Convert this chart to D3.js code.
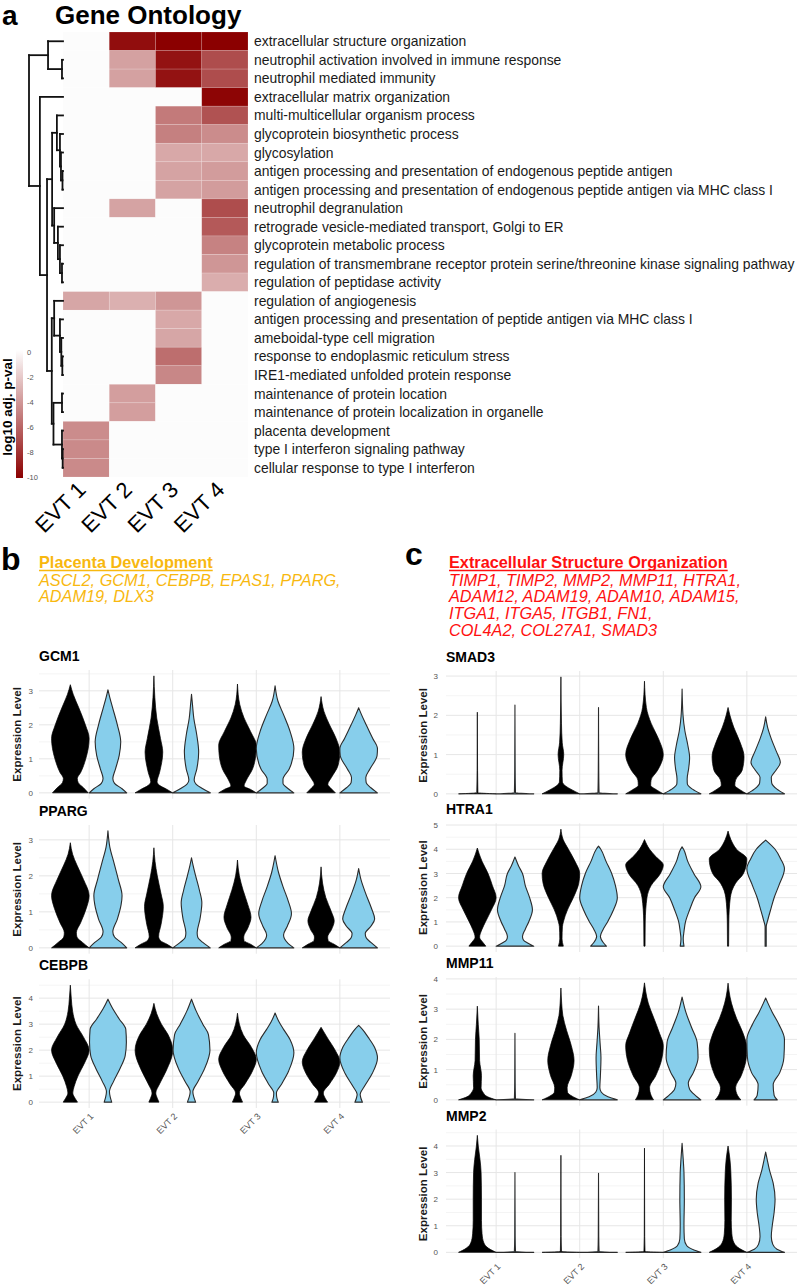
<!DOCTYPE html>
<html>
<head>
<meta charset="utf-8">
<script src="https://cdn.jsdelivr.net/npm/d3@7"></script>
<style>
  body { margin: 0; background: #fff; }
  text { font-family: "Liberation Sans", Arial, Helvetica, sans-serif; }
</style>
</head>
<body>
<div id="fig"></div>
<script>
// ---------- panel a: GO heatmap ----------
const goTerms = [
  "extracellular structure organization",
  "neutrophil activation involved in immune response",
  "neutrophil mediated immunity",
  "extracellular matrix organization",
  "multi-multicellular organism process",
  "glycoprotein biosynthetic process",
  "glycosylation",
  "antigen processing and presentation of endogenous peptide antigen",
  "antigen processing and presentation of endogenous peptide antigen via MHC class I",
  "neutrophil degranulation",
  "retrograde vesicle-mediated transport, Golgi to ER",
  "glycoprotein metabolic process",
  "regulation of transmembrane receptor protein serine/threonine kinase signaling pathway",
  "regulation of peptidase activity",
  "regulation of angiogenesis",
  "antigen processing and presentation of peptide antigen via MHC class I",
  "ameboidal-type cell migration",
  "response to endoplasmic reticulum stress",
  "IRE1-mediated unfolded protein response",
  "maintenance of protein location",
  "maintenance of protein localization in organelle",
  "placenta development",
  "type I interferon signaling pathway",
  "cellular response to type I interferon"
];
const clusters = ["EVT 1", "EVT 2", "EVT 3", "EVT 4"];
// log10 adj. p-value per term, per cluster (null = not enriched)
const goPval = [
  [null, -9.5, -10, -10],
  [null, -3.7, -9.3, -7],
  [null, -3.7, -9.3, -7],
  [null, null, null, -9.8],
  [null, null, -5.2, -6.8],
  [null, null, -5, -4.5],
  [null, null, -3.4, -3.4],
  [null, null, -3.6, -3.9],
  [null, null, -3.6, -3.9],
  [null, -3.6, null, -7],
  [null, null, null, -6.5],
  [null, null, null, -4.9],
  [null, null, null, -4.1],
  [null, null, null, -3.2],
  [-3.5, -3.1, -4.1, null],
  [null, null, -3.4, null],
  [null, null, -3.5, null],
  [null, null, -5.7, null],
  [null, null, -4.7, null],
  [null, -3.8, null, null],
  [null, -3.8, null, null],
  [-4.5, null, null, null],
  [-4.6, null, null, null],
  [-4.6, null, null, null]
];
// row dendrogram, hclust style: negative = leaf (1-based row), positive = earlier merge
const dendroMerges = [
  [-2, -3, 0.03], [-1, 1, 0.44], [-8, -9, 0.015], [-7, 3, 0.06], [-6, 4, 0.09],
  [-5, 5, 0.18], [-13, -14, 0.03], [-12, 7, 0.09], [-11, 8, 0.15], [-10, 9, 0.26],
  [6, 10, 0.32], [-18, -19, 0.02], [-17, 12, 0.05], [-16, 13, 0.09], [-15, 14, 0.26],
  [-20, -21, 0.03], [-23, -24, 0.01], [-22, 17, 0.03], [16, 18, 0.28], [15, 19, 0.33],
  [11, 20, 0.47], [-4, 21, 0.68], [2, 22, 1.0]
];
const legendTicks = [0, -2, -4, -6, -8, -10];

// ---------- panels b/c: gene sets ----------
const placentaTitle = "Placenta Development";
const placentaGenes = ["ASCL2, GCM1, CEBPB, EPAS1, PPARG,", "ADAM19, DLX3"];
const ecmTitle = "Extracellular Structure Organization";
const ecmGenes = ["TIMP1, TIMP2, MMP2, MMP11, HTRA1,", "ADAM12, ADAM19, ADAM10, ADAM15,",
                  "ITGA1, ITGA5, ITGB1, FN1,", "COL4A2, COL27A1, SMAD3"];

// violin outlines: [expression, relative width]; order EVT1 black, EVT1 blue, EVT2 black, ...
const vlnGCM1 = [
  [[0,0.95],[0.15,0.7],[0.3,0.42],[0.42,0.37],[0.6,0.55],[1.0,0.82],[1.6,1.0],[2.0,0.8],[2.5,0.45],[2.9,0.15],[3.18,0]],
  [[0,1.0],[0.12,0.75],[0.28,0.35],[0.42,0.26],[0.7,0.4],[1.1,0.6],[1.5,0.68],[2.0,0.5],[2.5,0.25],[2.8,0.1],[3.03,0]],
  [[0,1.0],[0.1,0.7],[0.22,0.3],[0.33,0.17],[0.6,0.3],[1.2,0.47],[1.6,0.35],[2.2,0.15],[2.8,0.05],[3.44,0]],
  [[0,1.0],[0.12,0.6],[0.25,0.25],[0.38,0.14],[0.7,0.28],[1.2,0.38],[1.7,0.28],[2.2,0.12],[2.6,0.05],[2.9,0]],
  [[0,1.0],[0.1,0.7],[0.2,0.35],[0.35,0.45],[0.7,0.8],[1.1,0.97],[1.4,1.0],[1.8,0.7],[2.2,0.35],[2.6,0.12],[3.2,0]],
  [[0,1.0],[0.12,0.7],[0.28,0.42],[0.4,0.42],[0.7,0.75],[1.3,1.0],[1.8,0.8],[2.3,0.45],[2.7,0.15],[3.15,0]],
  [[0,0.76],[0.12,0.55],[0.25,0.36],[0.45,0.55],[0.8,0.9],[1.2,1.0],[1.6,0.8],[2.0,0.45],[2.4,0.15],[2.83,0]],
  [[0,1.0],[0.15,0.65],[0.3,0.4],[0.45,0.38],[0.7,0.6],[1.1,0.98],[1.3,1.0],[1.6,0.75],[2.0,0.4],[2.3,0.15],[2.5,0]]
];
const vlnPPARG = [
  [[0,1.0],[0.15,0.65],[0.3,0.35],[0.42,0.32],[0.7,0.55],[1.1,0.85],[1.45,1.0],[1.9,0.7],[2.3,0.35],[2.6,0.12],[2.92,0]],
  [[0,1.0],[0.15,0.7],[0.3,0.35],[0.45,0.26],[0.8,0.5],[1.2,0.7],[1.45,0.75],[1.9,0.55],[2.4,0.3],[2.8,0.1],[3.25,0]],
  [[0,1.0],[0.1,0.7],[0.2,0.35],[0.32,0.25],[0.65,0.38],[1.15,0.5],[1.5,0.38],[2.0,0.18],[2.4,0.06],[2.78,0]],
  [[0,1.0],[0.15,0.6],[0.3,0.33],[0.42,0.3],[0.8,0.45],[1.25,0.55],[1.6,0.42],[2.0,0.22],[2.3,0.08],[2.5,0]],
  [[0,1.0],[0.1,0.7],[0.2,0.35],[0.3,0.33],[0.55,0.55],[0.85,0.72],[1.2,0.55],[1.6,0.3],[2.0,0.1],[2.44,0]],
  [[0,1.0],[0.12,0.7],[0.25,0.5],[0.36,0.45],[0.6,0.65],[0.95,0.87],[1.3,0.7],[1.7,0.42],[2.1,0.18],[2.56,0]],
  [[0,1.0],[0.1,0.7],[0.2,0.38],[0.3,0.35],[0.5,0.55],[0.75,0.7],[1.0,0.55],[1.4,0.25],[1.8,0.08],[2.25,0]],
  [[0,1.0],[0.15,0.65],[0.28,0.4],[0.4,0.35],[0.6,0.65],[0.8,0.85],[1.1,0.68],[1.5,0.38],[1.9,0.12],[2.2,0]]
];
const vlnCEBPB = [
  [[0,0.38],[0.15,0.25],[0.35,0.13],[0.6,0.2],[1.0,0.4],[1.5,0.75],[2.0,1.0],[2.5,0.7],[3.0,0.3],[3.5,0.12],[4.0,0.05],[4.5,0]],
  [[0,0.2],[0.2,0.12],[0.4,0.08],[0.8,0.3],[1.3,0.65],[1.8,0.92],[2.3,0.98],[2.8,0.95],[3.2,0.6],[3.6,0.25],[3.96,0]],
  [[0,0.27],[0.15,0.18],[0.35,0.1],[0.7,0.3],[1.2,0.65],[2.0,1.0],[2.6,0.75],[3.0,0.4],[3.4,0.15],[3.8,0]],
  [[0,0.22],[0.2,0.12],[0.4,0.07],[0.8,0.35],[1.3,0.7],[2.0,0.98],[2.6,0.9],[3.0,0.6],[3.5,0.25],[3.96,0]],
  [[0,0.27],[0.15,0.18],[0.35,0.1],[0.7,0.4],[1.2,0.8],[1.65,1.0],[2.1,0.75],[2.6,0.3],[3.0,0.1],[3.42,0]],
  [[0,0.17],[0.15,0.1],[0.35,0.07],[0.7,0.35],[1.2,0.72],[1.9,1.0],[2.4,0.8],[2.8,0.45],[3.1,0.2],[3.43,0]],
  [[0,0.35],[0.15,0.22],[0.35,0.12],[0.7,0.45],[1.1,0.8],[1.55,1.0],[2.0,0.75],[2.4,0.4],[2.7,0.15],[2.88,0]],
  [[0,0.2],[0.15,0.12],[0.3,0.08],[0.6,0.3],[1.1,0.72],[1.7,1.0],[2.1,0.85],[2.5,0.5],[2.8,0.2],[2.95,0]]
];
const vlnSMAD3 = [
  [[0,1.0],[0.03,0.03],[0.6,0.012],[2.08,0]],
  [[0,1.0],[0.03,0.03],[0.6,0.012],[2.26,0]],
  [[0,1.0],[0.1,0.6],[0.2,0.25],[0.3,0.08],[0.6,0.06],[1.0,0.15],[1.3,0.07],[1.8,0.03],[2.98,0]],
  [[0,1.0],[0.03,0.03],[0.6,0.012],[2.2,0]],
  [[0,1.0],[0.1,0.65],[0.22,0.33],[0.35,0.35],[0.6,0.7],[1.0,1.0],[1.4,0.75],[1.8,0.35],[2.2,0.1],[2.87,0]],
  [[0,1.0],[0.12,0.55],[0.25,0.28],[0.38,0.27],[0.65,0.35],[0.92,0.4],[1.25,0.3],[1.6,0.15],[2.0,0.05],[2.67,0]],
  [[0,1.0],[0.1,0.65],[0.22,0.36],[0.35,0.4],[0.6,0.75],[0.95,0.85],[1.3,0.65],[1.7,0.3],[2.0,0.1],[2.2,0]],
  [[0,1.0],[0.12,0.6],[0.28,0.32],[0.42,0.3],[0.6,0.55],[0.8,0.78],[1.1,0.55],[1.4,0.3],[1.7,0.1],[1.96,0]]
];
const vlnHTRA1 = [
  [[0,0.45],[0.15,0.3],[0.37,0.12],[0.7,0.25],[1.0,0.43],[1.5,0.75],[2.0,1.0],[2.5,0.8],[3.0,0.57],[3.5,0.25],[3.8,0.1],[4.05,0]],
  [[0,1.0],[0.12,0.7],[0.25,0.45],[0.4,0.4],[0.7,0.55],[1.0,0.73],[1.5,0.93],[2.0,0.78],[2.5,0.55],[3.0,0.4],[3.3,0.2],[3.68,0]],
  [[0,0.13],[0.3,0.06],[0.8,0.08],[1.0,0.13],[1.5,0.35],[2.0,0.66],[2.6,0.95],[3.0,1.0],[3.5,0.75],[4.0,0.4],[4.4,0.12],[4.83,0]],
  [[0,0.42],[0.15,0.25],[0.4,0.1],[0.7,0.25],[1.0,0.48],[1.5,0.8],[2.0,1.0],[2.5,0.9],[3.0,0.7],[3.5,0.4],[4.0,0.12],[4.13,0]],
  [[0,0.03],[1.0,0.04],[2.0,0.13],[2.5,0.35],[3.0,0.85],[3.35,1.0],[3.7,0.6],[4.0,0.27],[4.4,0]],
  [[0,0.1],[0.3,0.06],[0.6,0.1],[1.0,0.18],[1.5,0.4],[2.0,0.66],[2.45,1.0],[3.0,0.62],[3.5,0.3],[4.0,0.08],[4.1,0]],
  [[0,0.03],[1.0,0.04],[2.0,0.12],[2.6,0.4],[3.0,0.82],[3.6,1.0],[4.0,0.45],[4.4,0.15],[4.75,0]],
  [[0,0.03],[0.8,0.03],[1.1,0.12],[1.6,0.3],[2.0,0.45],[2.5,0.7],[3.2,1.0],[3.6,0.8],[4.0,0.5],[4.38,0]]
];
const vlnMMP11 = [
  [[0,1.0],[0.1,0.55],[0.25,0.3],[0.4,0.2],[0.8,0.22],[1.3,0.12],[2.0,0.1],[2.5,0.05],[3.1,0]],
  [[0,1.0],[0.03,0.03],[0.6,0.012],[2.2,0]],
  [[0,1.0],[0.12,0.6],[0.25,0.35],[0.4,0.33],[0.8,0.55],[1.3,0.7],[1.8,0.55],[2.3,0.3],[2.8,0.1],[3.2,0.04],[3.7,0]],
  [[0,1.0],[0.1,0.5],[0.25,0.15],[0.4,0.07],[0.8,0.1],[1.4,0.13],[1.9,0.08],[2.4,0.03],[3.1,0]],
  [[0,0.48],[0.15,0.35],[0.4,0.27],[0.8,0.6],[1.3,0.9],[1.8,1.0],[2.2,0.8],[2.7,0.5],[3.2,0.2],[3.6,0.06],[3.87,0]],
  [[0,1.0],[0.15,0.7],[0.35,0.4],[0.55,0.33],[0.9,0.6],[1.4,0.85],[1.9,0.8],[2.4,0.5],[2.9,0.2],[3.4,0]],
  [[0,0.68],[0.15,0.5],[0.4,0.4],[0.8,0.7],[1.3,0.95],[1.7,1.0],[2.2,0.8],[2.7,0.45],[3.2,0.18],[3.6,0.05],[3.86,0]],
  [[0,0.62],[0.15,0.45],[0.5,0.4],[0.9,0.75],[1.4,0.97],[2.0,1.0],[2.5,0.7],[2.9,0.35],[3.2,0.12],[3.37,0]]
];
const vlnMMP2 = [
  [[0,1.0],[0.15,0.6],[0.35,0.35],[0.7,0.25],[1.2,0.22],[2.0,0.22],[3.0,0.2],[3.5,0.14],[4.0,0.05],[4.4,0]],
  [[0,1.0],[0.03,0.03],[0.6,0.012],[3.0,0]],
  [[0,1.0],[0.03,0.03],[0.6,0.012],[3.65,0]],
  [[0,1.0],[0.03,0.03],[0.6,0.012],[2.97,0]],
  [[0,1.0],[0.03,0.03],[0.6,0.012],[3.92,0]],
  [[0,1.0],[0.1,0.6],[0.25,0.25],[0.5,0.12],[1.0,0.1],[2.0,0.12],[3.0,0.1],[3.5,0.06],[4.1,0]],
  [[0,1.0],[0.15,0.6],[0.35,0.32],[0.7,0.2],[1.2,0.17],[2.0,0.18],[3.0,0.15],[3.5,0.1],[4.0,0]],
  [[0,1.0],[0.12,0.6],[0.3,0.38],[0.6,0.3],[1.0,0.35],[1.5,0.45],[2.0,0.5],[2.6,0.4],[3.1,0.2],[3.5,0.08],[3.77,0]]
];
const leftGenes = ["GCM1", "PPARG", "CEBPB"];
const rightGenes = ["SMAD3", "HTRA1", "MMP11", "MMP2"];
const violinsByGene = { GCM1: vlnGCM1, PPARG: vlnPPARG, CEBPB: vlnCEBPB,
  SMAD3: vlnSMAD3, HTRA1: vlnHTRA1, MMP11: vlnMMP11, MMP2: vlnMMP2 };

// ---------- drawing ----------
const width = 797, height = 1288;
const svg = d3.select("#fig").append("svg")
  .attr("width", width).attr("height", height)
  .style("background", "#fff");

const font = "'Liberation Sans', Arial, Helvetica, sans-serif";

// ----- panel a -----
const heat = { left: 63, right: 248, top: 32, bottom: 477 };
const xh = d3.scaleBand().domain(clusters).range([heat.left, heat.right]);
const yh = d3.scaleBand().domain(d3.range(goTerms.length)).range([heat.top, heat.bottom]);
const heatColor = d3.scaleLinear().domain([-10, 0]).range(["#8B0000", "#FFFFFF"]);

svg.append("text").attr("x", 2).attr("y", 24.5)
  .style("font-size", "28px").style("font-weight", "bold").text("a");
svg.append("text").attr("x", 55).attr("y", 23.5)
  .style("font-size", "26px").style("font-weight", "bold").text("Gene Ontology");

const cells = [];
goPval.forEach((row, i) => row.forEach((v, j) => cells.push({ i, j, v })));
svg.append("g").selectAll("rect").data(cells).join("rect")
  .attr("x", d => xh(clusters[d.j]))
  .attr("y", d => yh(d.i))
  .attr("width", xh.bandwidth())
  .attr("height", yh.bandwidth())
  .attr("fill", d => d.v == null ? "#FCFCFC" : heatColor(d.v))
  .attr("stroke", d => d.v == null ? "none" : "#ffffff")
  .attr("stroke-opacity", 0.25)
  .attr("stroke-width", 0.6);

svg.append("g").selectAll("text").data(goTerms).join("text")
  .attr("x", heat.right + 6)
  .attr("y", (d, i) => yh(i) + yh.bandwidth() / 2)
  .attr("dy", "0.36em")
  .style("font-size", "13.9px").attr("fill", "#1a1a1a")
  .text(d => d);

svg.append("g").selectAll("text").data(clusters).join("text")
  .attr("transform", d => `translate(${xh(d) + xh.bandwidth() / 2 + 1},${heat.bottom + 14}) rotate(-45)`)
  .attr("text-anchor", "end")
  .style("font-size", "22px").attr("fill", "#000")
  .text(d => d);

// dendrogram
const xd = d3.scaleLinear().domain([0, 1]).range([heat.left, 29]);
const nodes = [];
function nodeOf(k) {
  if (k < 0) return { y: yh(-k - 1) + yh.bandwidth() / 2, h: 0 };
  return nodes[k - 1];
}
const dendroSegs = [];
dendroMerges.forEach(([a, b, h]) => {
  const na = nodeOf(a), nb = nodeOf(b);
  const n = { y: (na.y + nb.y) / 2, h };
  nodes.push(n);
  dendroSegs.push([xd(h), na.y, xd(h), nb.y]);
  dendroSegs.push([xd(h), na.y, xd(na.h), na.y]);
  dendroSegs.push([xd(h), nb.y, xd(nb.h), nb.y]);
});
svg.append("g").selectAll("line").data(dendroSegs).join("line")
  .attr("x1", d => d[0]).attr("y1", d => d[1])
  .attr("x2", d => d[2]).attr("y2", d => d[3])
  .attr("stroke", "#111").attr("stroke-width", 1.8).attr("stroke-linecap", "square");

// colour bar
const yl = d3.scaleLinear().domain([0, -10]).range([352, 477]);
const grad = svg.append("defs").append("linearGradient")
  .attr("id", "pgrad").attr("x1", 0).attr("x2", 0).attr("y1", 0).attr("y2", 1);
d3.range(0, 11).forEach(k => {
  grad.append("stop").attr("offset", k / 10).attr("stop-color", heatColor(-k));
});
svg.append("rect").attr("x", 16).attr("y", yl(0) - 2).attr("width", 7)
  .attr("height", yl(-10) - yl(0) + 3).attr("fill", "url(#pgrad)");
svg.append("g").selectAll("text").data(legendTicks).join("text")
  .attr("x", 27).attr("y", d => yl(d)).attr("dy", "0.35em")
  .style("font-size", "7.5px").attr("fill", "#555")
  .text(d => d);
svg.append("text")
  .attr("transform", `translate(12,407) rotate(-90)`)
  .attr("text-anchor", "middle")
  .style("font-size", "13.5px").style("font-weight", "bold")
  .text("log10 adj. p-val");

// ----- panels b and c headers -----
function header(letter, lx, ly, title, lines, color, tx) {
  svg.append("text").attr("x", lx).attr("y", ly)
    .style("font-size", "32px").style("font-weight", "bold").text(letter);
  const t = svg.append("text").attr("x", tx).attr("y", 568)
    .style("font-size", "16.3px").style("font-weight", "bold").attr("fill", color).text(title);
  const len = t.node().getComputedTextLength();
  svg.append("line").attr("x1", tx).attr("x2", tx + len).attr("y1", 570.5).attr("y2", 570.5)
    .attr("stroke", color).attr("stroke-width", 1.5);
  svg.append("g").selectAll("text").data(lines).join("text")
    .attr("x", tx).attr("y", (d, i) => 585.5 + i * 16.7)
    .style("font-size", "16.3px").style("font-style", "italic").attr("fill", color)
    .text(d => d);
}
header("b", 1, 570, placentaTitle, placentaGenes, "#F8B80F", 39);
header("c", 405, 565, ecmTitle, ecmGenes, "#FF1010", 449);

// ----- violin panels -----
const panelH = 128.7;
const columns = [
  { genes: leftGenes, range: [39, 390], tops: [670, 825, 979.3], labelEnd: 33, titleX: 21 },
  { genes: rightGenes, range: [446, 797], tops: [671, 823.3, 977, 1129.5], labelEnd: 438, titleX: 427 }
];
const splitFill = ["#000000", "#87CEEB"];
const splitStroke = ["#000000", "#2b2b2b"];

columns.forEach(col => {
  const xv = d3.scalePoint().domain(clusters).range(col.range).padding(0.6);
  const step = xv.step();
  col.genes.forEach((gene, gi) => {
    const data = violinsByGene[gene];
    const top = col.tops[gi];
    const bottom = top + panelH;
    const ymax = d3.max(data, v => d3.max(v, p => p[0]));
    const yv = d3.scaleLinear().domain([-0.05 * ymax, 1.05 * ymax]).range([bottom, top]);
    const g = svg.append("g");

    // grid
    const minor = d3.range(0.5, 1.05 * ymax, 1);
    const major = d3.range(0, 1.05 * ymax, 1);
    g.append("g").selectAll("line").data(minor).join("line")
      .attr("x1", col.range[0]).attr("x2", col.range[1])
      .attr("y1", d => yv(d)).attr("y2", d => yv(d))
      .attr("stroke", "#F1F1F1").attr("stroke-width", 0.8);
    g.append("g").selectAll("line").data(major).join("line")
      .attr("x1", col.range[0]).attr("x2", col.range[1])
      .attr("y1", d => yv(d)).attr("y2", d => yv(d))
      .attr("stroke", "#E6E6E6").attr("stroke-width", 1);
    g.append("g").selectAll("line").data(clusters).join("line")
      .attr("x1", d => xv(d)).attr("x2", d => xv(d))
      .attr("y1", top).attr("y2", bottom)
      .attr("stroke", "#E6E6E6").attr("stroke-width", 1);

    // y axis labels
    const ax = g.append("g").attr("transform", `translate(${col.range[0]},0)`)
      .call(d3.axisLeft(yv).tickValues(major).tickSize(0)
        .tickPadding(col.range[0] - col.labelEnd).tickFormat(d3.format("d")));
    ax.select(".domain").remove();
    ax.selectAll("text").style("font-size", "8px").style("font-family", font).attr("fill", "#555");

    g.append("text")
      .attr("transform", `translate(${col.titleX},${(top + bottom) / 2}) rotate(-90)`)
      .attr("text-anchor", "middle")
      .style("font-size", "11.5px").style("font-weight", "bold").attr("fill", "#1a1a1a")
      .text("Expression Level");

    g.append("text").attr("x", col.range[0]).attr("y", top - 9)
      .style("font-size", "14px").style("font-weight", "bold").text(gene);

    // violins
    const hw = 0.225 * step;
    data.forEach((v, k) => {
      const grp = clusters[Math.floor(k / 2)];
      const s = k % 2;
      const cx = xv(grp) + (s === 0 ? -1 : 1) * 0.225 * step;
      const area = d3.area()
        .curve(d3.curveMonotoneY)
        .y(p => yv(p[0]))
        .x0(p => cx - p[1] * hw)
        .x1(p => cx + p[1] * hw);
      g.append("path").attr("d", area(v))
        .attr("fill", splitFill[s])
        .attr("stroke", splitStroke[s])
        .attr("stroke-width", s === 0 ? 0.7 : 1.1)
        .attr("stroke-linejoin", "round");
    });

    // x labels on bottom panel
    if (gi === col.genes.length - 1) {
      g.append("g").selectAll("text").data(clusters).join("text")
        .attr("transform", d => `translate(${xv(d) + 5},${bottom + 9}) rotate(-45)`)
        .attr("text-anchor", "end")
        .style("font-size", "9px").attr("fill", "#555")
        .text(d => d);
    }
  });
});
</script>
</body>
</html>
